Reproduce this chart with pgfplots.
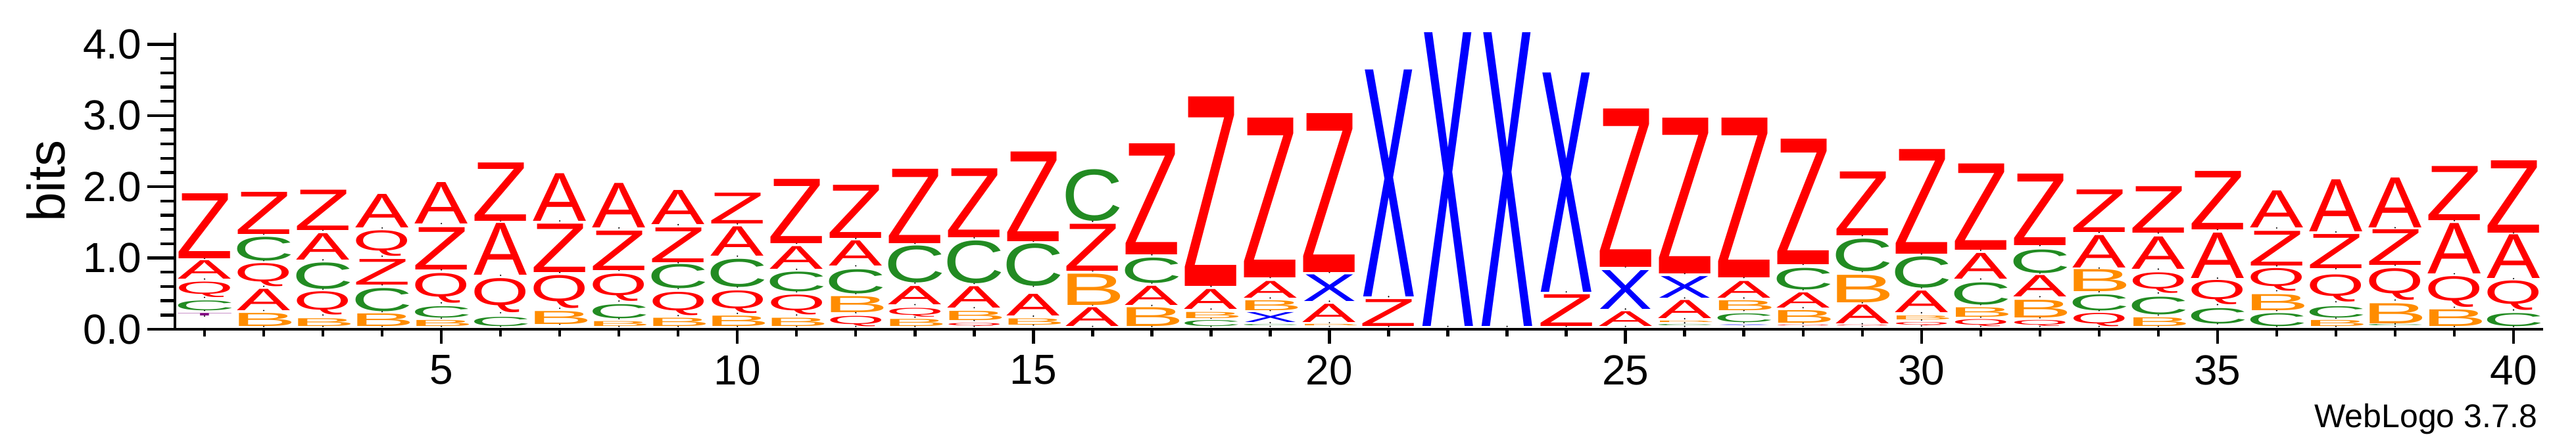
\documentclass[border=0pt]{standalone}
\usepackage{pgfplots}
\usepackage{pgfplotstable}
\pgfplotsset{compat=1.18}
\usepackage{fontspec}
\setmainfont{Liberation Sans}
\usepackage{graphicx}
\definecolor{cA}{HTML}{FF0000}
\definecolor{cQ}{HTML}{FF0000}
\definecolor{cZ}{HTML}{FF0000}
\definecolor{cC}{HTML}{228B22}
\definecolor{cB}{HTML}{FF8C00}
\definecolor{cX}{HTML}{0000FF}
\definecolor{cT}{HTML}{800080}
\def\wA{20.3}\def\wB{25.0}\def\wC{23.3}\def\wQ{22.1}\def\wX{20.6}\def\wZ{21.8}\def\wT{22.0}
\newcommand\logoL[2]{\resizebox*{\csname w#1\endcsname pt}{#2pt}{\color{c#1}#1}}
\pgfplotstableread{
x b t l
1 0.995 1.907 Z
1 0.705 0.964 A
1 0.448 0.665 Q
1 0.263 0.402 C
1 0.185 0.220 T
2 1.335 1.926 Z
2 0.964 1.298 C
2 0.603 0.927 Q
2 0.263 0.563 A
2 0.040 0.223 B
3 1.391 1.957 Z
3 0.974 1.345 A
3 0.563 0.934 C
3 0.200 0.526 Q
3 0.040 0.148 B
4 1.422 1.892 A
4 1.026 1.385 Q
4 0.624 0.983 Z
4 0.247 0.572 C
4 0.040 0.216 B
5 1.484 2.065 A
5 0.835 1.428 Z
5 0.371 0.788 Q
5 0.155 0.315 C
5 0.040 0.124 B
6 1.521 2.340 Z
6 0.757 1.484 A
6 0.232 0.711 Q
6 0.040 0.170 C
7 1.521 2.189 A
7 0.798 1.478 Z
7 0.294 0.757 Q
7 0.071 0.253 B
8 1.422 2.046 A
8 0.828 1.382 Z
8 0.396 0.779 Q
8 0.148 0.346 C
8 0.040 0.108 B
9 1.468 1.947 A
9 0.934 1.422 Z
9 0.572 0.912 C
9 0.192 0.519 Q
9 0.040 0.155 B
10 1.478 1.910 Z
10 1.026 1.437 A
10 0.594 0.989 C
10 0.223 0.541 Q
10 0.040 0.185 B
11 1.206 2.108 Z
11 0.841 1.159 A
11 0.526 0.804 C
11 0.200 0.479 Q
11 0.040 0.155 B
12 1.274 2.019 Z
12 0.890 1.243 A
12 0.501 0.841 C
12 0.232 0.457 B
12 0.040 0.185 Q
13 1.206 2.250 Z
13 0.649 1.168 C
13 0.346 0.603 A
13 0.170 0.294 Q
13 0.040 0.139 B
14 1.283 2.250 Z
14 0.643 1.243 C
14 0.303 0.603 A
14 0.124 0.253 B
14 0.040 0.083 Q
15 1.236 2.495 Z
15 0.603 1.199 C
15 0.185 0.488 A
15 0.060 0.148 B
16 1.515 2.241 C
16 0.819 1.478 Z
16 0.340 0.779 B
16 0.040 0.303 A
17 1.045 2.603 Z
17 0.649 1.005 C
17 0.334 0.603 A
17 0.040 0.303 B
18 0.603 3.261 Z
18 0.284 0.563 A
18 0.155 0.241 B
18 0.040 0.124 C
19 0.726 2.968 Z
19 0.439 0.674 A
19 0.263 0.402 B
19 0.093 0.232 X
19 0.040 0.060 C
20 0.798 3.029 Z
20 0.393 0.767 X
20 0.093 0.349 A
20 0.040 0.060 B
21 0.458 3.641 X
21 0.040 0.417 Z
22 0.040 4.160 X
23 0.040 4.160 X
24 0.525 3.601 X
24 0.040 0.485 Z
25 0.875 3.097 Z
25 0.284 0.828 X
25 0.040 0.247 A
26 0.782 2.968 Z
26 0.439 0.742 X
26 0.148 0.402 A
26 0.090 0.110 B
26 0.040 0.060 C
27 0.726 2.968 Z
27 0.439 0.674 A
27 0.263 0.402 B
27 0.093 0.216 C
27 0.040 0.055 X
28 0.912 2.674 Z
28 0.556 0.859 C
28 0.303 0.516 A
28 0.087 0.263 B
28 0.040 0.055 Q
29 1.314 2.210 Z
29 0.810 1.267 C
29 0.371 0.757 B
29 0.077 0.340 A
29 0.040 0.055 Q
30 1.057 2.526 Z
30 0.581 1.020 C
30 0.232 0.535 A
30 0.130 0.185 B
30 0.046 0.093 Q
31 1.107 2.318 Z
31 0.705 1.066 A
31 0.346 0.658 C
31 0.170 0.303 B
31 0.040 0.139 Q
32 1.175 2.179 Z
32 0.788 1.119 C
32 0.457 0.757 A
32 0.161 0.408 B
32 0.040 0.124 Q
33 1.360 1.957 Z
33 0.859 1.314 A
33 0.526 0.835 B
33 0.263 0.488 C
33 0.040 0.226 Q
34 1.351 2.003 Z
34 0.844 1.298 A
34 0.510 0.798 Q
34 0.200 0.448 C
34 0.040 0.161 B
35 1.400 2.220 Z
35 0.717 1.354 A
35 0.346 0.686 Q
35 0.077 0.294 C
36 1.422 1.941 A
36 0.890 1.376 Z
36 0.541 0.859 Q
36 0.263 0.488 B
36 0.040 0.223 C
37 1.366 2.096 A
37 0.850 1.329 Z
37 0.386 0.767 Q
37 0.155 0.315 C
37 0.040 0.124 B
38 1.426 2.126 A
38 0.900 1.400 Z
38 0.410 0.854 Q
38 0.075 0.357 B
38 0.040 0.060 C
39 1.524 2.284 Z
39 0.779 1.486 A
39 0.309 0.741 Q
39 0.038 0.271 B
40 1.351 2.366 Z
40 0.711 1.324 A
40 0.271 0.685 Q
40 0.038 0.222 C
}\logo
\begin{document}
\begin{tikzpicture}
\useasboundingbox (-66.5pt,-41.5pt) rectangle (912.75pt,125.25pt);
\begin{axis}[
  scale only axis, width=900.25pt, height=112.75pt,
  xmin=0.5, xmax=40.5, ymin=0, ymax=4.16,
  axis x line*=bottom, axis y line=none,
  axis line style={line width=1.1pt, -},
  xtick={5,10,...,40}, minor xtick={1,...,40},
  tick align=outside, major tick length=5.4pt, minor tick length=2.7pt,
  every tick/.style={black, line width=1.1pt},
  xticklabel style={font=\fontsize{16}{19}\selectfont, inner sep=0pt, anchor=north, yshift=-4.35pt},
  /pgf/number format/assume math mode=true,
  ytick=\empty,
  clip=false,
]
\addplot[only marks, mark=o, mark size=0.01pt, mark options={draw=none, fill=none},
  point meta=explicit symbolic,
  visualization depends on={27.103*(\thisrow{t}-\thisrow{b}) \as \hh},
  nodes near coords={\expandafter\logoL\expandafter{\pgfplotspointmeta}{\hh}},
  nodes near coords style={anchor=south, inner sep=0pt, outer sep=0pt},
] table[x=x, y=b, meta=l] {\logo};
\node[anchor=base east, font=\fontsize{12.5}{15}\selectfont] at ([xshift=1.25pt,yshift=-37.25pt]rel axis cs:1,0) {WebLogo 3.7.8};
\end{axis}
\begin{axis}[
  scale only axis, width=900.25pt, height=112.75pt,
  xmin=0.5, xmax=40.5, ymin=0, ymax=4.16,
  axis y line*=left, axis x line=none,
  axis line style={line width=1.1pt, -},
  ytick={0,1,2,3,4}, minor ytick={0.2,0.4,...,4.01},
  tick align=outside, major tick length=10.5pt, minor tick length=5.4pt,
  every tick/.style={black, line width=1.1pt},
  yticklabel style={font=\fontsize{16}{19}\selectfont, inner sep=0pt, anchor=east, xshift=-2pt,
    /pgf/number format/.cd, fixed, fixed zerofill, precision=1},
  /pgf/number format/assume math mode=true,
  clip=false,
]
\node[rotate=90, font=\fontsize{20}{24}\selectfont] at ([xshift=-49.1pt]rel axis cs:0,0.5) {bits};
\end{axis}
\end{tikzpicture}
\end{document}
